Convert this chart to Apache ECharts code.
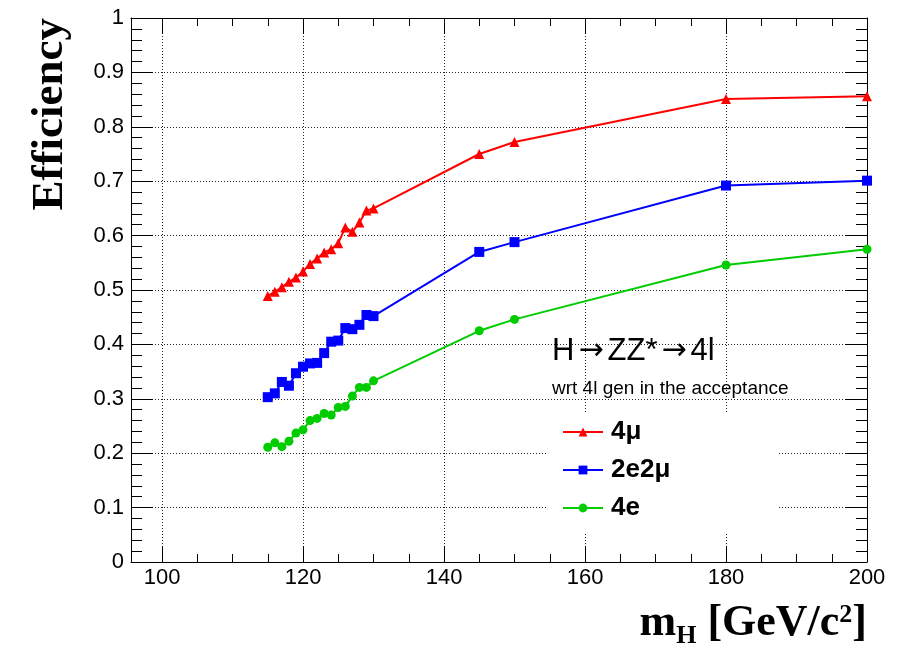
<!DOCTYPE html>
<html>
<head>
<meta charset="utf-8">
<script src="https://cdn.jsdelivr.net/npm/echarts@6/dist/echarts.min.js"></script>
<style>
html,body{margin:0;padding:0;background:#fff;}
#chart{width:902px;height:649px;}
</style>
</head>
<body>
<div id="chart"></div>
<script>
// ---- data ----
const massPoints = [115,116,117,118,119,120,121,122,123,124,125,126,127,128,129,130,145,150,180,200];
const eff4mu   = [0.489,0.497,0.505,0.515,0.523,0.534,0.548,0.558,0.569,0.575,0.586,0.615,0.607,0.624,0.646,0.650,0.750,0.772,0.851,0.856];
const eff2e2mu = [0.303,0.310,0.331,0.324,0.347,0.359,0.365,0.366,0.384,0.405,0.407,0.430,0.428,0.436,0.454,0.452,0.570,0.588,0.692,0.701];
const eff4e    = [0.211,0.219,0.212,0.222,0.237,0.243,0.260,0.264,0.273,0.270,0.284,0.286,0.305,0.321,0.321,0.333,0.425,0.446,0.546,0.575];
const seriesNames = ['4\u03bc','2e2\u03bc','4e'];
const xMajorTicks = [100,120,140,160,180,200];
const xMinorTicks = [105,110,115,125,130,135,145,150,155,165,170,175,185,190,195];

const pairs = ys => massPoints.map((x,i)=>[x,ys[i]]);
const black = '#000';
const sans = '"Liberation Sans", Arial, sans-serif';
const serif = '"Liberation Serif", "Times New Roman", serif';

function xAx(pos, ticks, len, major){
  return {
    type:'value', position:pos, min:95.6, max:200,
    axisLine:{show:major, onZero:false, lineStyle:{color:black,width:1}},
    axisTick:{show:true, inside:true, length:len, customValues:ticks, lineStyle:{color:black,width:1}},
    axisLabel:{show:major && pos==='bottom', customValues:ticks, color:black, fontFamily:sans, fontSize:22, margin:5},
    splitLine:{show:major && pos==='bottom', lineStyle:{color:'#222', width:1, type:[1,2]}},
    minorTick:{show:false}, minorSplitLine:{show:false}
  };
}
function yAx(pos){
  const left = pos==='left';
  return {
    type:'value', position:pos, min:0, max:1, interval:0.1,
    axisLine:{show:true, onZero:false, lineStyle:{color:black,width:1}},
    axisTick:{show:true, inside:true, length:22, lineStyle:{color:black,width:1}},
    minorTick:{show:true, splitNumber:5, length:11, lineStyle:{color:black,width:1}},
    axisLabel:{show:left, color:black, fontFamily:sans, fontSize:22, margin:7},
    splitLine:{show:left, lineStyle:{color:'#222', width:1, type:[1,2]}}
  };
}

const chart = echarts.init(document.getElementById('chart'), null, {renderer:'canvas'});
chart.setOption({
  animation:false,
  backgroundColor:'#fff',
  grid:{left:131, top:18, right:35, bottom:87, containLabel:false, outerBoundsMode:'none'},
  xAxis:[xAx('bottom', xMajorTicks, 16, true), xAx('bottom', xMinorTicks, 8, false),
         xAx('top', xMajorTicks, 16, true), xAx('top', xMinorTicks, 8, false)],
  yAxis:[yAx('left'), yAx('right')],
  legend:{
    orient:'vertical', left:548, top:412,
    backgroundColor:'#fff', padding:[6,108,10,14],
    itemWidth:40, itemHeight:11, itemGap:10,
    textStyle:{fontFamily:sans, fontWeight:'bold', fontSize:26, color:black, lineHeight:28, padding:[0,0,0,3]},
    data:seriesNames
  },
  series:[
    {name:seriesNames[0], type:'line', data:pairs(eff4mu), symbol:'triangle', symbolSize:10,
     lineStyle:{color:'#ff0000', width:2}, itemStyle:{color:'#ff0000'}},
    {name:seriesNames[1], type:'line', data:pairs(eff2e2mu), symbol:'rect', symbolSize:10,
     lineStyle:{color:'#0000ff', width:2}, itemStyle:{color:'#0000ff'}},
    {name:seriesNames[2], type:'line', data:pairs(eff4e), symbol:'circle', symbolSize:9,
     lineStyle:{color:'#00cc00', width:2}, itemStyle:{color:'#00cc00'}}
  ],
  graphic:[
    {type:'text', left:552, top:336, z:10, style:{text:'{a|H}{r|\u2192}{a|ZZ*}{r|\u2192}{a|4l}',
      rich:{a:{fontFamily:sans, fontSize:31, fill:black},
            r:{fontFamily:'"DejaVu Sans", sans-serif', fontSize:30, fill:black, padding:[0,4,0,4]}}}},
    {type:'text', left:552, top:379, z:10, style:{text:'wrt 4l gen in the acceptance', fontFamily:sans, fontSize:19, fill:black}},
    {type:'text', x:50, y:18, rotation:Math.PI/2, z:10,
     style:{text:'Efficiency', fontFamily:serif, fontWeight:'bold', fontSize:45, fill:black, align:'right', verticalAlign:'middle'}},
    {type:'text', x:867, y:649, z:10,
     style:{text:'{a|m}{s|H}{a| [GeV/c}{p|2}{a|]}', align:'right', verticalAlign:'bottom',
       rich:{
         a:{fontFamily:serif, fontWeight:'bold', fontSize:44, fill:black, verticalAlign:'top', lineHeight:47},
         s:{fontFamily:serif, fontWeight:'bold', fontSize:26, fill:black, verticalAlign:'bottom', lineHeight:24},
         p:{fontFamily:serif, fontWeight:'bold', fontSize:26, fill:black, verticalAlign:'top', lineHeight:26}
       }}}
  ]
});
</script>
</body>
</html>
